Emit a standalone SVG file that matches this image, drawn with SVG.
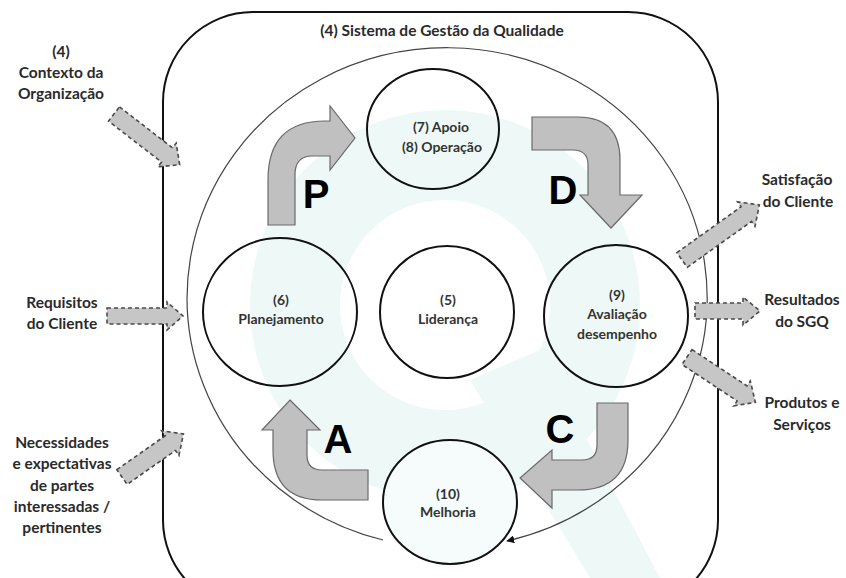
<svg xmlns="http://www.w3.org/2000/svg" width="846" height="578" viewBox="0 0 846 578">
<defs>
<style>
.lbl{font-family:Lato,"Liberation Sans",sans-serif;font-weight:700;font-size:15.5px;fill:#2a2a2a;text-anchor:middle}
.nl{font-family:Lato,"Liberation Sans",sans-serif;font-weight:700;font-size:14px;fill:#333;text-anchor:middle}
.big{font-family:"Liberation Sans",Arial,sans-serif;font-weight:700;font-size:40px;fill:#000;text-anchor:middle}
.node{fill:none;stroke:#111;stroke-width:2}
.cyc{fill:#c0c0c0;stroke:#6a6a6a;stroke-width:1.2}
.dash{fill:#c6c6c6;stroke:#4a4a4a;stroke-width:1.6;stroke-dasharray:4 3}
</style>
<marker id="ah" viewBox="0 0 10 10" refX="9" refY="5" markerWidth="8" markerHeight="8" orient="auto" markerUnits="userSpaceOnUse">
<path d="M0,0 L10,5 L0,10 Z" fill="#111"/>
</marker>
</defs>
<rect width="846" height="578" fill="#fff"/>
<g id="watermark">
<circle cx="445" cy="305" r="150" fill="none" stroke="#eef9f7" stroke-width="90"/>
<polygon points="470,380 540,350 660,578 590,578" fill="#eef9f7"/>
</g>
<g id="system">
<rect x="163" y="12" width="555" height="598" rx="90" ry="90" fill="none" stroke="#111" stroke-width="2"/>
<text class="lbl" x="442" y="36" style="font-size:15.5px">(4) Sistema de Gestão da Qualidade</text>
</g>
<g id="connectors">
<path d="M 383 540 A 260 250 0 1 1 507 541" fill="none" stroke="#444" stroke-width="1.2" marker-end="url(#ah)"/>
<path class="cyc" d="M 268 225 L 268 180 Q 268 121 325 121 L 330 121 L 330 106 L 355 138 L 330 170 L 330 156 L 312 156 Q 295 156 295 175 L 295 225 Z"/>
<path class="cyc" d="M 532 117 L 578 117 Q 620 117 620 160 L 620 195 L 642 195 L 611 228 L 580 195 L 588 195 L 588 165 Q 588 150 573 150 L 532 150 Z"/>
<path class="cyc" d="M 597 403 L 628 403 L 628 440 Q 628 490 578 490 L 552 490 L 552 508 L 520 478 L 552 450 L 552 460 L 582 460 Q 597 460 597 445 Z"/>
<path class="cyc" d="M 290 400 L 320 430 L 307 430 L 307 455 Q 307 470 322 470 L 368 470 L 368 500 L 322 500 Q 273 500 273 450 L 273 430 L 262 430 Z"/>
<text class="big" x="316" y="208">P</text>
<text class="big" x="563" y="204">D</text>
<text class="big" x="560" y="443">C</text>
<text class="big" x="338" y="453">A</text>
<polygon class="dash" transform="translate(114,114) rotate(37.7)" points="0,-9 67,-9 67,-15 83,0 67,15 67,9 0,9"/>
<polygon class="dash" transform="translate(107,316)" points="0,-8 60,-8 60,-14 76,0 60,14 60,8 0,8"/>
<polygon class="dash" transform="translate(122,477) rotate(-35)" points="0,-9 59,-9 59,-15 75,0 59,15 59,9 0,9"/>
<polygon class="dash" transform="translate(682,260) rotate(-35.5)" points="0,-9 79,-9 79,-15 95,0 79,15 79,9 0,9"/>
<polygon class="dash" transform="translate(695,311)" points="0,-8 48,-8 48,-14 65,0 48,14 48,8 0,8"/>
<polygon class="dash" transform="translate(687,357) rotate(33.5)" points="0,-9 66,-9 66,-15 82,0 66,15 66,9 0,9"/>
</g>
<g id="n7">
<ellipse class="node" cx="433" cy="129" rx="66" ry="60"/>
<text class="nl" x="441" y="132">(7) Apoio</text>
<text class="nl" x="442" y="152">(8) Operação</text>
</g>
<g id="n6">
<ellipse class="node" cx="280" cy="312" rx="77" ry="74"/>
<text class="nl" x="281" y="305">(6)</text>
<text class="nl" x="281" y="324">Planejamento</text>
</g>
<g id="n5">
<ellipse class="node" cx="447" cy="312" rx="67" ry="66"/>
<text class="nl" x="448" y="305">(5)</text>
<text class="nl" x="448" y="324">Liderança</text>
</g>
<g id="n9">
<ellipse class="node" cx="616" cy="316" rx="72" ry="71"/>
<text class="nl" x="617" y="300">(9)</text>
<text class="nl" x="617" y="319">Avaliação</text>
<text class="nl" x="617" y="339">desempenho</text>
</g>
<g id="n10">
<ellipse class="node" cx="450" cy="502" rx="67" ry="62" style="fill:#f6fcfb"/>
<text class="nl" x="448" y="499">(10)</text>
<text class="nl" x="448" y="517">Melhoria</text>
</g>
<g id="in-contexto">
<text class="lbl" x="61" y="57">(4)</text>
<text class="lbl" x="61" y="78">Contexto da</text>
<text class="lbl" x="61" y="99">Organização</text>
</g>
<g id="in-requisitos">
<text class="lbl" x="62" y="308">Requisitos</text>
<text class="lbl" x="62" y="329">do Cliente</text>
</g>
<g id="in-necessidades">
<text class="lbl" x="62" y="448">Necessidades</text>
<text class="lbl" x="62" y="469">e expectativas</text>
<text class="lbl" x="62" y="491">de partes</text>
<text class="lbl" x="62" y="512">interessadas /</text>
<text class="lbl" x="62" y="533">pertinentes</text>
</g>
<g id="out-satisfacao">
<text class="lbl" x="797" y="185">Satisfação</text>
<text class="lbl" x="798" y="207">do Cliente</text>
</g>
<g id="out-resultados">
<text class="lbl" x="802" y="305">Resultados</text>
<text class="lbl" x="802" y="327">do SGQ</text>
</g>
<g id="out-produtos">
<text class="lbl" x="802" y="408">Produtos e</text>
<text class="lbl" x="802" y="430">Serviços</text>
</g>
</svg>
